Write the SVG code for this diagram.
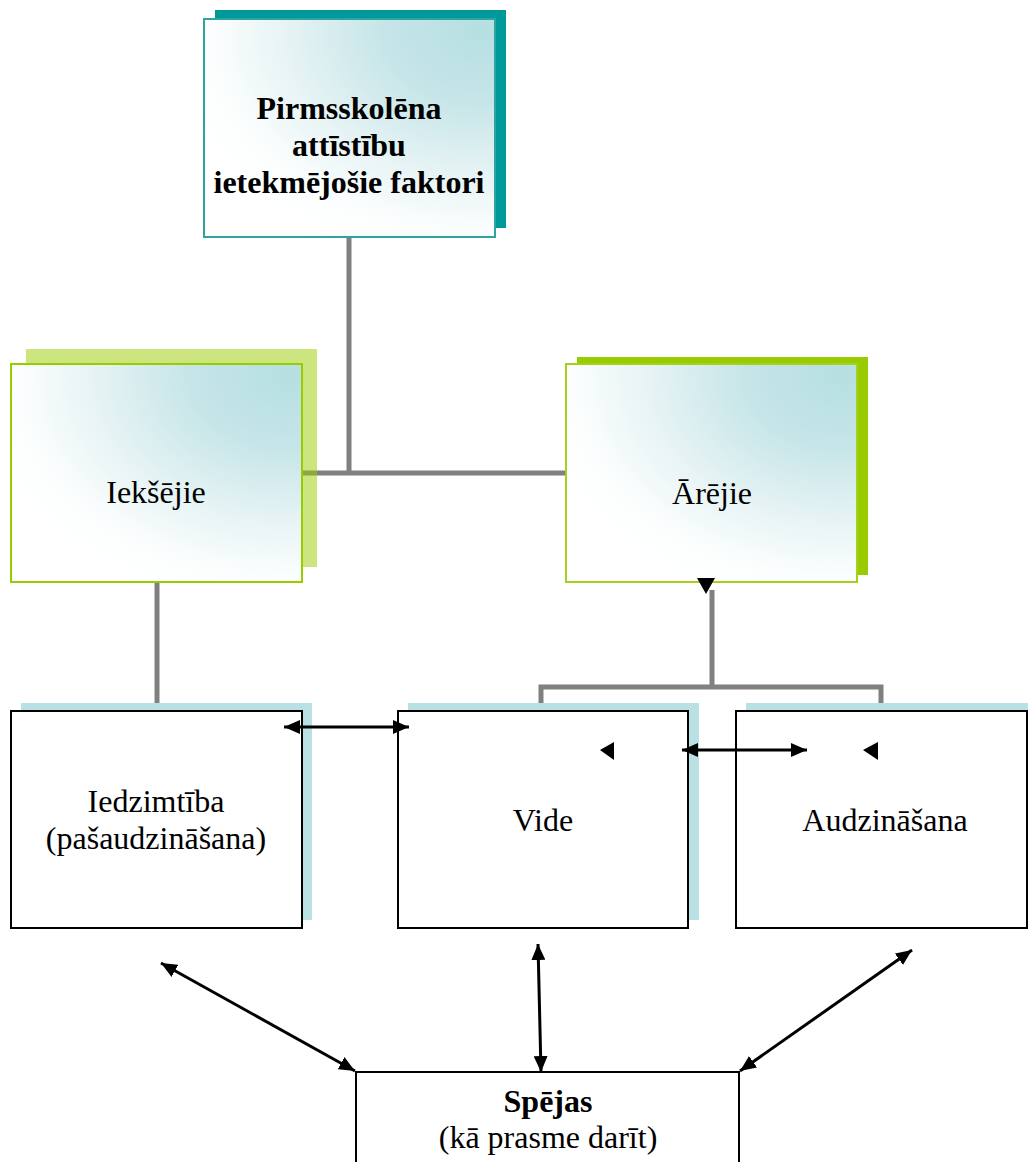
<svg xmlns="http://www.w3.org/2000/svg" width="1028" height="1162" viewBox="0 0 1028 1162">
<defs>
<radialGradient id="grad" cx="0.95" cy="0.05" r="1.1" gradientUnits="objectBoundingBox">
<stop offset="0" stop-color="#b6dfe2"/>
<stop offset="0.3" stop-color="#c6e5e8"/>
<stop offset="0.6" stop-color="#e6f3f4"/>
<stop offset="0.85" stop-color="#fcfefe"/>
<stop offset="1" stop-color="#ffffff"/>
</radialGradient>
<marker id="ah" viewBox="0 0 16 14" refX="16" refY="7" markerWidth="16" markerHeight="14" markerUnits="userSpaceOnUse" orient="auto-start-reverse">
<path d="M0,0 L16,7 L0,14 Z" fill="#000"/>
</marker>
<style>
.t{font-family:"Liberation Serif","Times New Roman",serif;font-size:32px;fill:#000;text-anchor:middle}
.b{font-weight:bold}
.gray{stroke:#808080;stroke-width:5;fill:none}
.arr{stroke:#000;stroke-width:3;fill:none;marker-start:url(#ah);marker-end:url(#ah)}
.box{fill:#fff;stroke:#000;stroke-width:2}
.sh{fill:#b9e0e3}
</style>
</defs>
<rect width="1028" height="1162" fill="#fff"/>
<g id="connectors-lines">
<path class="gray" d="M349,237 V473 M302,473 H566"/>
<path class="gray" d="M157,582 V703"/>
<path class="gray" d="M712,590 V687 M541,687 H881 M541,684.5 V703 M881,684.5 V703"/>
</g>
<g id="node-top">
<rect x="215" y="10" width="291" height="218" fill="#009999"/>
<rect x="204" y="19" width="291" height="218" fill="url(#grad)" stroke="#2ea3a3" stroke-width="2"/>
<text class="t b" x="349" y="119">Pirmsskolēna</text>
<text class="t b" x="349" y="156">attīstību</text>
<text class="t b" x="349" y="193">ietekmējošie faktori</text>
</g>
<g id="node-ieksejie">
<rect x="26" y="349" width="291" height="218" fill="#99cc00" fill-opacity="0.5"/>
<rect x="11" y="364" width="291" height="218" fill="url(#grad)" stroke="#99cc00" stroke-width="2"/>
<text class="t" x="156" y="503">Iekšējie</text>
</g>
<g id="node-arejie">
<rect x="577" y="357" width="291" height="218" fill="#99cc00"/>
<rect x="566" y="364" width="291" height="218" fill="url(#grad)" stroke="#a6d11a" stroke-width="2"/>
<text class="t" x="712" y="504">Ārējie</text>
</g>
<g id="node-iedzimtiba">
<rect class="sh" x="21" y="703" width="291" height="217"/>
<rect class="box" x="11" y="711" width="291" height="217"/>
<text class="t" x="156" y="812">Iedzimtība</text>
<text class="t" x="156" y="849">(pašaudzināšana)</text>
</g>
<g id="node-vide">
<rect class="sh" x="408" y="703" width="291" height="217"/>
<rect class="box" x="398" y="711" width="290" height="217"/>
<text class="t" x="543" y="831">Vide</text>
</g>
<g id="node-audzinasana">
<rect class="sh" x="746" y="703" width="290" height="217"/>
<rect class="box" x="736" y="711" width="291" height="217"/>
<text class="t" x="885" y="831">Audzināšana</text>
</g>
<g id="node-spejas">
<rect class="box" x="356" y="1072" width="383" height="100"/>
<text class="t b" x="548" y="1112">Spējas</text>
<text class="t" x="548" y="1148">(kā prasme darīt)</text>
</g>
<g id="connectors-arrows">
<line class="arr" x1="284" y1="727" x2="409" y2="727"/>
<line class="arr" x1="682" y1="750" x2="807" y2="750"/>
<line class="arr" x1="538" y1="944" x2="541" y2="1072"/>
<line class="arr" x1="161" y1="963" x2="355" y2="1071"/>
<line class="arr" x1="912" y1="950" x2="740" y2="1071"/>
<polygon points="697,578 715,578 706,594" fill="#000"/>
<polygon points="600,750 614,742 614,760" fill="#000"/>
<polygon points="863,750 878,742 878,760" fill="#000"/>
</g>
</svg>
